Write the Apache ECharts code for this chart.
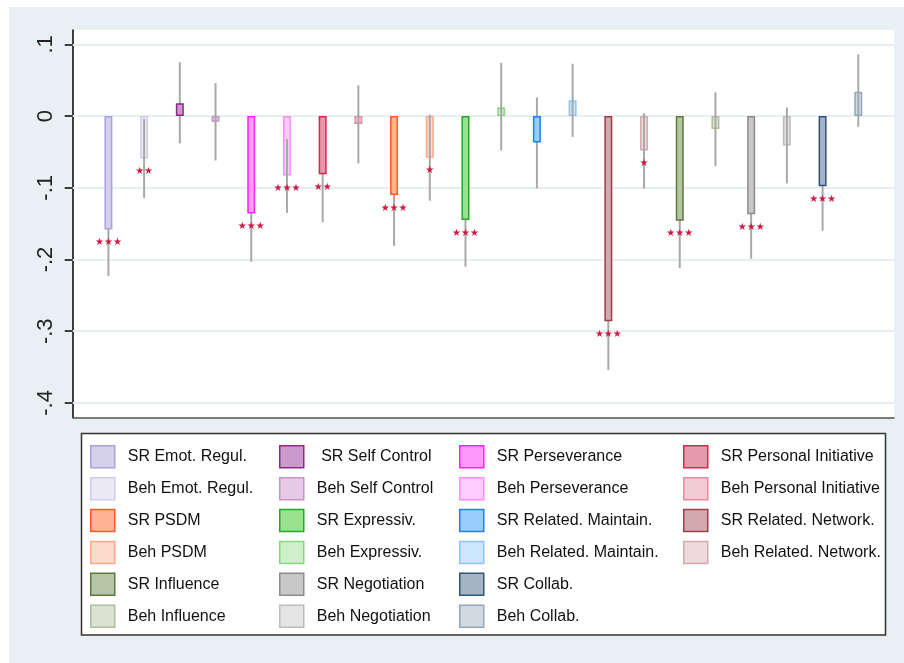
<!DOCTYPE html>
<html>
<head>
<meta charset="utf-8">
<script src="https://cdn.jsdelivr.net/npm/echarts@6/dist/echarts.min.js"></script>
<style>
  html, body { margin: 0; padding: 0; background: #fff; }
  #bg { position: absolute; left: 9px; top: 7px; width: 895px; height: 656px; background: #e8f0f3; }
  #chart { position: absolute; left: 0; top: 0; width: 904px; height: 663px; }
</style>
</head>
<body>
<div id="bg"></div>
<div id="chart"></div>
<script>
// one bar per measure, in plotting order
const names = [
  "SR Emot. Regul.", "Beh Emot. Regul.",
  " SR Self Control", "Beh Self Control",
  "SR Perseverance", "Beh Perseverance",
  "SR Personal Initiative", "Beh Personal Initiative",
  "SR PSDM", "Beh PSDM",
  "SR Expressiv.", "Beh Expressiv.",
  "SR Related. Maintain.", "Beh Related. Maintain.",
  "SR Related. Network.", "Beh Related. Network.",
  "SR Influence", "Beh Influence",
  "SR Negotiation", "Beh Negotiation",
  "SR Collab.", "Beh Collab."
];
const means = [-0.158, -0.059, 0.018, -0.008, -0.136, -0.083, -0.081, -0.011, -0.110, -0.058, -0.145,
  0.012, -0.037, 0.022, -0.286, -0.048, -0.146, -0.018, -0.137, -0.041, -0.098, 0.034];
const ciLow = [-0.223, -0.114, -0.038, -0.062, -0.203, -0.135, -0.148, -0.066, -0.181, -0.118, -0.210,
  -0.048, -0.101, -0.029, -0.354, -0.101, -0.212, -0.070, -0.199, -0.094, -0.160, -0.015];
const ciHigh = [-0.093, -0.004, 0.075, 0.046, -0.069, -0.032, -0.015, 0.043, -0.039, 0.002, -0.080,
  0.074, 0.026, 0.073, -0.218, 0.004, -0.081, 0.033, -0.074, 0.012, -0.036, 0.086];
const stars = [3, 2, 0, 0, 3, 3, 2, 0, 3, 1, 3, 0, 0, 0, 3, 1, 3, 0, 3, 0, 3, 0];

const tickValues = [0.1, 0, -0.1, -0.2, -0.3, -0.4];
const tickLabels = [".1", "0", "-.1", "-.2", "-.3", "-.4"];

// legend columns (read row by row in the original)
const legendCols = [
  ["SR Emot. Regul.", "Beh Emot. Regul.", "SR PSDM", "Beh PSDM", "SR Influence", "Beh Influence"],
  [" SR Self Control", "Beh Self Control", "SR Expressiv.", "Beh Expressiv.", "SR Negotiation", "Beh Negotiation"],
  ["SR Perseverance", "Beh Perseverance", "SR Related. Maintain.", "Beh Related. Maintain.", "SR Collab.", "Beh Collab."],
  ["SR Personal Initiative", "Beh Personal Initiative", "SR Related. Network.", "Beh Related. Network."]
];

const fills = ["#d4d0ec", "#eceaf7", "#cc99cc", "#e6c9e4", "#ff99ff", "#ffccff", "#e89aad", "#f4cbd5",
  "#ffb394", "#ffd9ca", "#99e28f", "#cdf0c8", "#9accff", "#cde6ff", "#d4a9ad", "#eed9dc",
  "#b5c6a5", "#dbe2d2", "#c8c8c8", "#e4e4e4", "#a5b4c4", "#d1d9e1"];
const borders = ["#a9a3db", "#cfcbec", "#8b2a8b", "#c893c4", "#ff22ff", "#ff8cff", "#cc2a4a", "#e28ba1",
  "#ff5a1f", "#ffa88a", "#22aa22", "#88d880", "#1a80ff", "#8cc2ff", "#9a4048", "#d4a9ae",
  "#5c7a3a", "#aebf9d", "#8c8c8c", "#bcbcbc", "#2f5478", "#93a7bc"];

const font = "'Liberation Sans', Arial, Helvetica, sans-serif";
const chart = echarts.init(document.getElementById("chart"));

const barSeries = names.map((n, i) => ({
  name: n,
  type: "bar",
  z: 2,
  barWidth: 8,
  barGap: "-100%",
  itemStyle: { color: fills[i], borderColor: borders[i], borderWidth: 1.5 },
  data: [[i + 1, means[i]]]
}));

function ciSeries(parity, z) {
  const data = [];
  names.forEach((n, i) => {
    if (i % 2 === parity) data.push([i + 1, ciLow[i], ciHigh[i]]);
  });
  return {
    type: "custom",
    z: z,
    silent: true,
    data: data,
    renderItem(params, api) {
      const a = api.coord([api.value(0), api.value(1)]);
      const b = api.coord([api.value(0), api.value(2)]);
      return {
        type: "line",
        shape: { x1: a[0], y1: a[1], x2: b[0], y2: b[1] },
        style: { stroke: "#a8a8a8", lineWidth: 2 }
      };
    }
  };
}

const srCI = ciSeries(0, 1);
srCI.markLine = {
  silent: true,
  z: 0.5,
  symbol: "none",
  label: { show: false },
  lineStyle: { color: "#e6eef1", width: 2, type: "solid" },
  data: tickValues.map(v => ({ yAxis: v }))
};

const starSeries = {
  type: "custom",
  z: 6,
  silent: true,
  data: means.map((m, i) => [i + 1, m, stars[i]]),
  renderItem(params, api) {
    const n = api.value(2);
    if (!n) return null;
    const p = api.coord([api.value(0), api.value(1)]);
    return {
      type: "text",
      style: {
        x: p[0], y: p[1] + 13,
        text: "★".repeat(n),
        fill: "#d01842",
        font: "10px 'DejaVu Sans', sans-serif",
        align: "center",
        verticalAlign: "middle"
      }
    };
  }
};

const colX = [90, 279, 459, 683];
const legends = legendCols.map((col, c) => ({
  orient: "vertical",
  left: colX[c],
  top: 445,
  padding: 0,
  itemWidth: 24,
  itemHeight: 22,
  itemGap: 8.4,
  icon: "rect",
  selectedMode: false,
  textStyle: { fontSize: 16, color: "#111", fontFamily: font, padding: [0, 0, 0, 8] },
  data: col.map(n => {
    const i = names.indexOf(n);
    return { name: n, itemStyle: { color: fills[i], borderColor: borders[i], borderWidth: 1.5 } };
  })
}));

chart.setOption({
  backgroundColor: "transparent",
  animation: false,
  grid: { left: 72.7, top: 30, right: 10, bottom: 245.7, show: true, backgroundColor: "#fff", borderWidth: 0 },
  xAxis: {
    type: "value",
    min: 0,
    max: 23,
    axisLine: { show: true, onZero: false, lineStyle: { color: "#555", width: 1.5 } },
    axisTick: { show: false },
    axisLabel: { show: false },
    splitLine: { show: false }
  },
  yAxis: {
    type: "value",
    min: -0.42,
    max: 0.12,
    axisLine: { show: true, onZero: false, lineStyle: { color: "#000", width: 1.5 } },
    axisTick: { show: true, length: 8, lineStyle: { color: "#000", width: 1.5 }, customValues: tickValues },
    axisLabel: {
      show: true,
      rotate: 90,
      margin: 16,
      fontSize: 22,
      color: "#222",
      fontFamily: font,
      customValues: tickValues,
      formatter: v => {
        const k = tickValues.findIndex(t => Math.abs(t - v) < 1e-9);
        return k >= 0 ? tickLabels[k] : "";
      }
    },
    splitLine: { show: false }
  },
  legend: legends,
  graphic: [{
    type: "rect",
    shape: { x: 81.5, y: 433.5, width: 804, height: 201.5 },
    style: { fill: "#fff", stroke: "#333", lineWidth: 1.5 },
    z: 0
  }],
  series: [srCI, ...barSeries, ciSeries(1, 3), starSeries]
});
</script>
</body>
</html>
